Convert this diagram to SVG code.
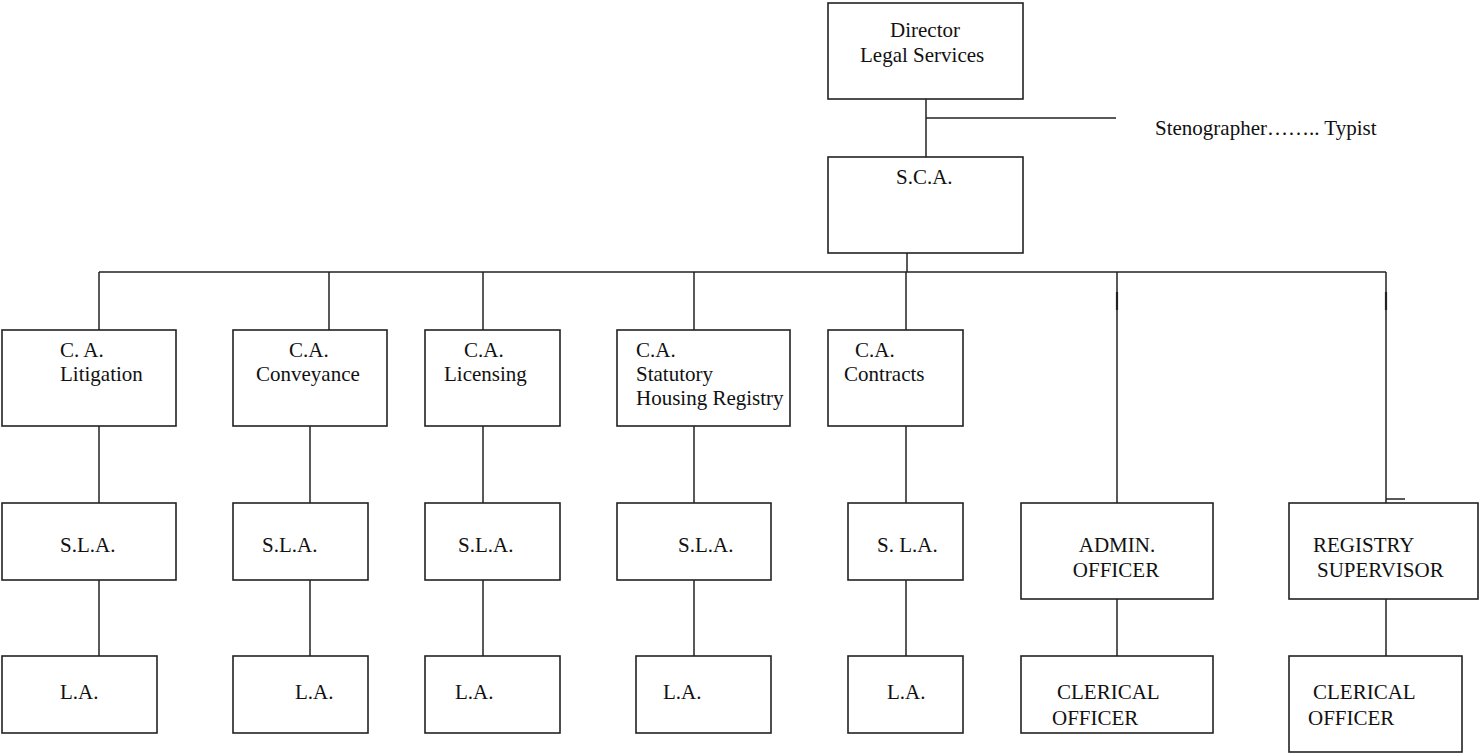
<svg xmlns="http://www.w3.org/2000/svg" width="1480" height="753" viewBox="0 0 1480 753">
<style>
rect{fill:#fff;stroke:#222;stroke-width:1.6}
line{stroke:#222;stroke-width:1.5}
text{font-family:"Liberation Serif","Times New Roman",serif;font-size:21px;fill:#111}
</style>
<rect x="0" y="0" width="1480" height="753" style="fill:#fff;stroke:none"/>
<g id="connectors">
<line x1="926" y1="99" x2="926" y2="157"/>
<line x1="926" y1="118" x2="1116" y2="118"/>
<line x1="907" y1="253" x2="907" y2="272"/>
<line x1="99" y1="272" x2="1386" y2="272"/>
<line x1="99" y1="272" x2="99" y2="330"/>
<line x1="329" y1="272" x2="329" y2="330"/>
<line x1="483" y1="272" x2="483" y2="330"/>
<line x1="694" y1="272" x2="694" y2="330"/>
<line x1="906" y1="272" x2="906" y2="330"/>
<line x1="1117" y1="272" x2="1117" y2="503"/>
<line x1="1117" y1="292" x2="1117" y2="310" style="stroke-width:2.2"/>
<line x1="1386" y1="272" x2="1386" y2="503"/>
<line x1="1386" y1="292" x2="1386" y2="310" style="stroke-width:2.2"/>
<line x1="1386" y1="499" x2="1405" y2="499"/>
<line x1="99" y1="426" x2="99" y2="503"/>
<line x1="99" y1="580" x2="99" y2="656"/>
<line x1="310" y1="426" x2="310" y2="503"/>
<line x1="310" y1="580" x2="310" y2="656"/>
<line x1="483" y1="426" x2="483" y2="503"/>
<line x1="483" y1="580" x2="483" y2="656"/>
<line x1="694" y1="426" x2="694" y2="503"/>
<line x1="694" y1="580" x2="694" y2="656"/>
<line x1="906" y1="426" x2="906" y2="503"/>
<line x1="906" y1="580" x2="906" y2="656"/>
<line x1="1117" y1="599" x2="1117" y2="656"/>
<line x1="1386" y1="599" x2="1386" y2="656"/>
</g>
<g id="director"><rect x="828" y="3" width="195" height="96"/><text x="890" y="37">Director</text><text x="860" y="62">Legal Services</text></g>
<g id="stenographer"><text x="1155" y="135">Stenographer…….. Typist</text></g>
<g id="sca"><rect x="828" y="157" width="195" height="96"/><text x="896" y="184">S.C.A.</text></g>
<g id="ca-litigation"><rect x="2" y="330" width="174" height="96"/><text x="60" y="357">C. A.</text><text x="60" y="381">Litigation</text></g>
<g id="ca-conveyance"><rect x="233" y="330" width="154" height="96"/><text x="289" y="357">C.A.</text><text x="256" y="381">Conveyance</text></g>
<g id="ca-licensing"><rect x="425" y="330" width="135" height="96"/><text x="464" y="357">C.A.</text><text x="444" y="381">Licensing</text></g>
<g id="ca-statutory"><rect x="617" y="330" width="173" height="96"/><text x="636" y="357">C.A.</text><text x="636" y="381">Statutory</text><text x="636" y="405">Housing Registry</text></g>
<g id="ca-contracts"><rect x="828" y="330" width="135" height="96"/><text x="855" y="357">C.A.</text><text x="844" y="381">Contracts</text></g>
<g id="sla-1"><rect x="2" y="503" width="174" height="77"/><text x="60" y="552">S.L.A.</text></g>
<g id="sla-2"><rect x="233" y="503" width="135" height="77"/><text x="262" y="552">S.L.A.</text></g>
<g id="sla-3"><rect x="425" y="503" width="135" height="77"/><text x="458" y="552">S.L.A.</text></g>
<g id="sla-4"><rect x="617" y="503" width="154" height="77"/><text x="678" y="552">S.L.A.</text></g>
<g id="sla-5"><rect x="848" y="503" width="115" height="77"/><text x="877" y="552">S. L.A.</text></g>
<g id="admin-officer"><rect x="1021" y="503" width="192" height="96"/><text x="1117" y="552" text-anchor="middle">ADMIN.</text><text x="1116" y="577" text-anchor="middle">OFFICER</text></g>
<g id="registry-supervisor"><rect x="1289" y="503" width="189" height="96"/><text x="1313" y="552">REGISTRY</text><text x="1317" y="577">SUPERVISOR</text></g>
<g id="la-1"><rect x="2" y="656" width="155" height="77"/><text x="60" y="699">L.A.</text></g>
<g id="la-2"><rect x="233" y="656" width="135" height="77"/><text x="295" y="699">L.A.</text></g>
<g id="la-3"><rect x="425" y="656" width="135" height="77"/><text x="455" y="699">L.A.</text></g>
<g id="la-4"><rect x="636" y="656" width="135" height="77"/><text x="663" y="699">L.A.</text></g>
<g id="la-5"><rect x="848" y="656" width="115" height="77"/><text x="887" y="699">L.A.</text></g>
<g id="clerical-1"><rect x="1021" y="656" width="192" height="77"/><text x="1057" y="699">CLERICAL</text><text x="1052" y="725">OFFICER</text></g>
<g id="clerical-2"><rect x="1289" y="656" width="173" height="96"/><text x="1313" y="699">CLERICAL</text><text x="1308" y="725">OFFICER</text></g>
</svg>
